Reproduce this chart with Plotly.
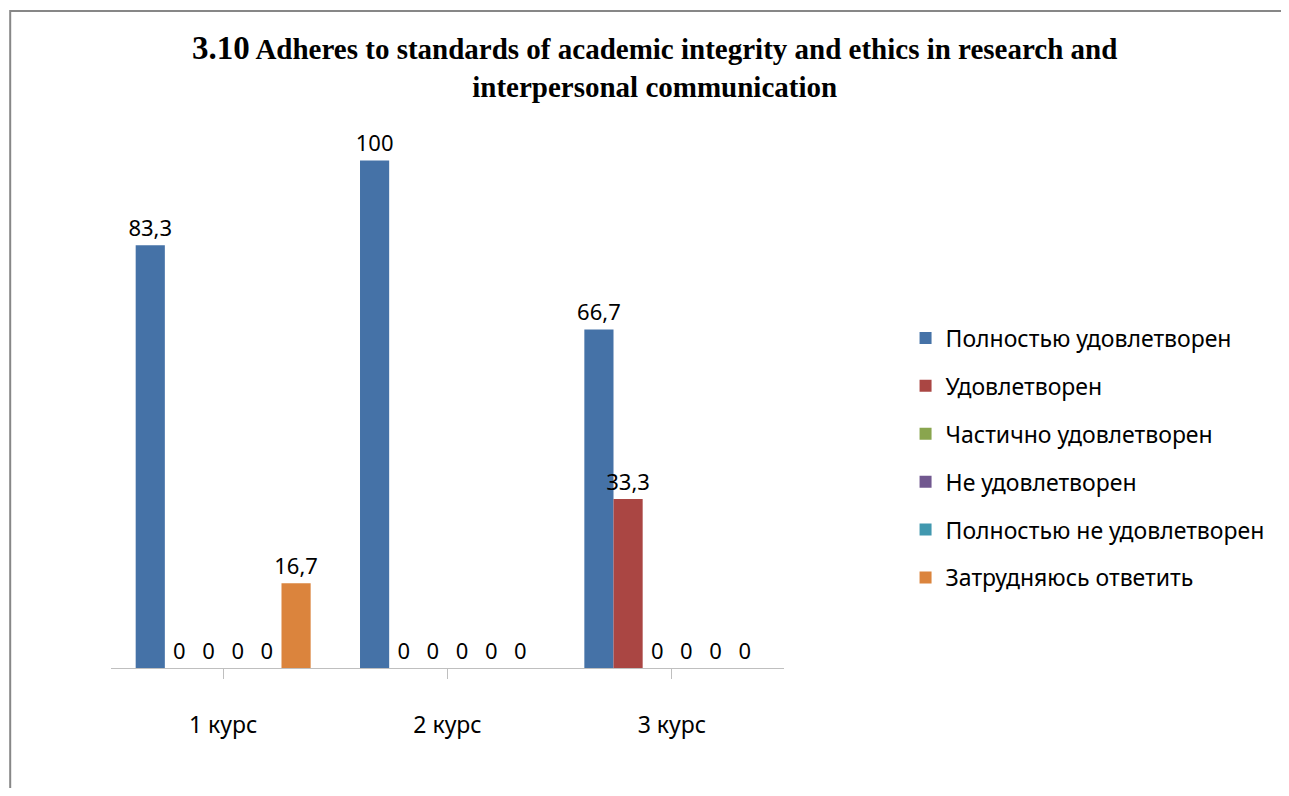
import plotly.graph_objects as go

categories = ["1 курс", "2 курс", "3 курс"]
series_names = [
    "Полностью удовлетворен",
    "Удовлетворен",
    "Частично удовлетворен",
    "Не удовлетворен",
    "Полностью не удовлетворен",
    "Затрудняюсь ответить",
]
full_sat = [83.3, 100, 66.7]
sat = [0, 0, 33.3]
partial = [0, 0, 0]
not_sat = [0, 0, 0]
full_not = [0, 0, 0]
hard = [16.7, 0, 0]
values = [full_sat, sat, partial, not_sat, full_not, hard]
colors = ["#4572A7", "#AA4643", "#89A54E", "#71588F", "#4198AF", "#DB843D"]


def fmt(v):
    return f"{v:g}".replace(".", ",")


W, H = 1273, 780
ml, mt = 103, 127
pw, ph = 681, 533
mr, mb = W - ml - pw, H - mt - ph

fig = go.Figure()
for i, (name, vals, col) in enumerate(zip(series_names, values, colors)):
    fig.add_trace(go.Bar(
        x=categories, y=vals, name=name,
        marker=dict(color=col, line=dict(width=0)),
        text=[fmt(v) for v in vals], textposition="outside",
        constraintext="none",
        textfont=dict(family="Noto Sans", size=22, color="#000000"),
        cliponaxis=False, legendgroup=f"g{i}",
    ))

fig.update_layout(
    width=W, height=H,
    paper_bgcolor="white", plot_bgcolor="white",
    margin=dict(l=ml, r=mr, t=mt, b=mb),
    barmode="group", bargap=0.22, bargroupgap=0.0,
    title=dict(
        text="<b><span style='font-size:33px'>3.10</span> Adheres to standards of academic integrity and ethics in research and<br>interpersonal communication</b>",
        x=0.508, xanchor="center", y=1 - 51 / H, yanchor="top",
        font=dict(family="Liberation Serif", size=29, color="#000000"),
    ),
    legend=dict(
        x=(907 - ml) / pw, xanchor="left", y=1 - (450 - mt) / ph, yanchor="middle",
        font=dict(family="Noto Sans", size=23, color="#000000"),
        tracegroupgap=15, itemsizing="constant", bgcolor="rgba(0,0,0,0)",
    ),
    xaxis=dict(
        showline=True, linecolor="#BFBFBF", linewidth=1, ticks="outside",
        tickcolor="#BFBFBF", ticklen=10, showgrid=False,
        ticklabelstandoff=26,
        tickfont=dict(family="Noto Sans", size=23, color="#000000"),
    ),
    yaxis=dict(range=[0, 105], visible=False, showgrid=False),
)

# outer chart border (top and left edges visible in reference)
fig.add_shape(type="rect", xref="paper", yref="paper",
              x0=(1 - ml) / pw, x1=(1300 - ml) / pw,
              y0=1 - (800 - mt) / ph, y1=1 - (3 - mt) / ph,
              line=dict(color="#878787", width=2), fillcolor="rgba(0,0,0,0)", layer="below")

fig.write_html("out.html")
